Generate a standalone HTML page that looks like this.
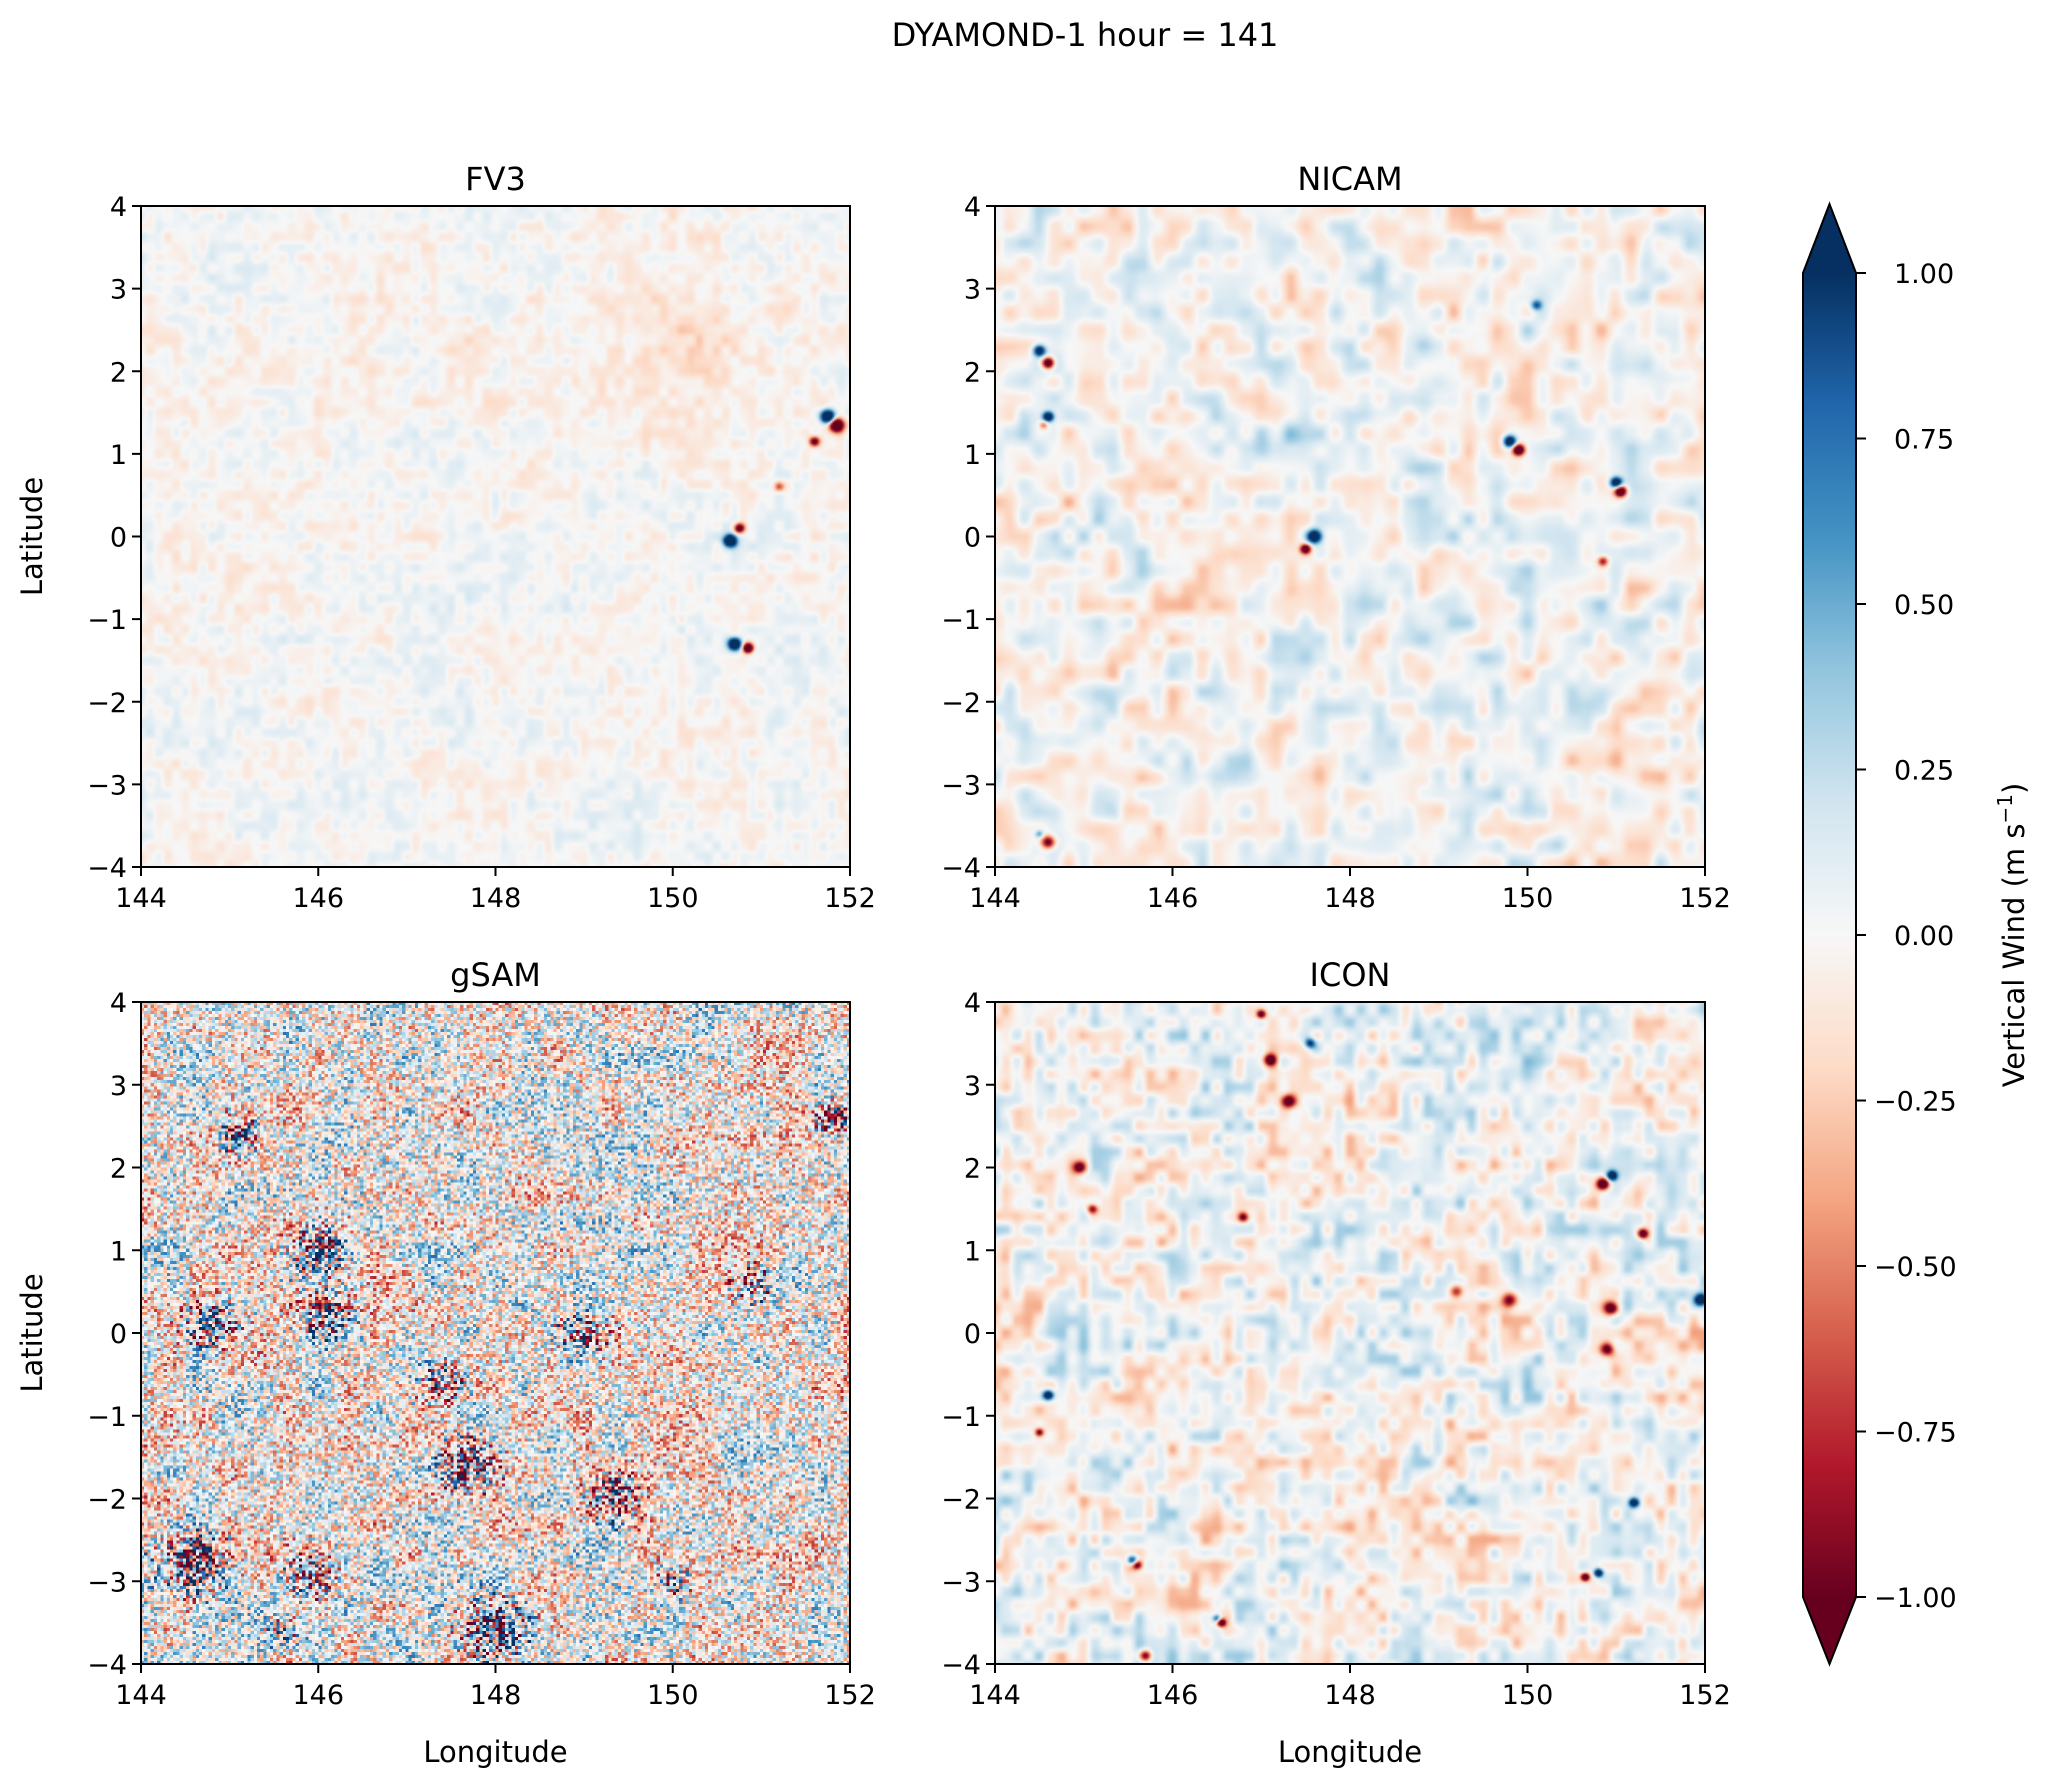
<!DOCTYPE html>
<html><head><meta charset="utf-8">
<style>
html,body{margin:0;padding:0;background:#fff;}
#root{position:relative;width:2067px;height:1790px;font-family:"DejaVu Sans","Liberation Sans",sans-serif;color:#000;}
canvas{position:absolute;}
svg{position:absolute;left:0;top:0;}
</style></head>
<body>
<div id="root">
<canvas id="c0"></canvas>
<canvas id="c1"></canvas>
<canvas id="c2"></canvas>
<canvas id="c3"></canvas>
<svg id="svg" width="2067" height="1790"></svg>
</div>
<script>
// ---- data ----
const xTicks = [144, 146, 148, 150, 152];
const yTicks = [-4, -3, -2, -1, 0, 1, 2, 3, 4];
const cbTicks = [1.00, 0.75, 0.50, 0.25, 0.00, -0.25, -0.50, -0.75, -1.00];
const panelTitles = ["FV3", "NICAM", "gSAM", "ICON"];
// features: lon, lat, amplitude (m/s), radius (deg)
const fv3Lon = [151.75,151.85,151.6,150.65,150.75,150.7,150.85,151.2,150.2,148.15,147.7];
const fv3Lat = [1.45,1.35,1.15,-0.05,0.1,-1.3,-1.35,0.6,2.4,0.2,2.0];
const fv3Amp = [2.0,-2.0,-1.2,2.0,-1.3,2.0,-1.8,-0.6,-0.12,-0.15,-0.1];
const fv3Rad = [0.08,0.08,0.06,0.07,0.06,0.07,0.06,0.06,1.2,0.15,0.5];
const nicamLon = [144.5,144.6,144.6,144.55,147.6,147.5,149.8,149.9,151.0,151.05,150.85,150.1,144.6,144.5,147.3];
const nicamLat = [2.25,2.1,1.45,1.35,0.0,-0.15,1.15,1.05,0.65,0.55,-0.3,2.8,-3.7,-3.6,1.0];
const nicamAmp = [1.4,-1.6,1.5,-0.6,1.6,-1.4,1.6,-1.6,1.7,-1.6,-0.9,0.8,-1.2,0.6,0.2];
const nicamRad = [0.07,0.07,0.06,0.05,0.08,0.06,0.07,0.07,0.07,0.07,0.06,0.06,0.08,0.05,0.5];
const gsamLon = [146.0,145.1,144.8,146.1,147.7,149.3,149.0,144.6,145.9,148.0,150.9,151.8,147.4,145.6,150.0];
const gsamLat = [1.0,2.4,0.1,0.2,-1.6,-2.0,0.0,-2.8,-2.9,-3.6,0.6,2.6,-0.6,-3.6,-3.0];
const gsamAmp = [0.9,0.8,0.8,0.8,0.9,0.9,0.7,0.9,0.7,0.9,0.6,0.9,0.6,0.6,0.6];
const gsamRad = [0.3,0.25,0.3,0.3,0.35,0.3,0.3,0.4,0.3,0.4,0.25,0.2,0.3,0.2,0.2];
const iconLon = [144.6,144.5,145.6,145.55,146.55,146.5,145.1,144.95,147.1,147.3,147.55,150.85,150.95,151.3,150.95,149.8,147.0,151.95,150.65,150.8,151.2,149.2,145.7,146.8,150.9];
const iconLat = [-0.75,-1.2,-2.8,-2.75,-3.5,-3.45,1.5,2.0,3.3,2.8,3.5,1.8,1.9,1.2,0.3,0.4,3.85,0.4,-2.95,-2.9,-2.05,0.5,-3.9,1.4,-0.2];
const iconAmp = [1.5,-1.0,-1.4,1.3,-1.4,1.0,-1.0,-1.0,-1.2,-1.2,1.0,-1.6,1.5,-1.4,-1.3,-1.0,-1.2,1.5,-1.4,1.5,1.4,-0.9,-1.3,-1.0,-1.0];
const iconRad = [0.06,0.05,0.06,0.06,0.05,0.05,0.06,0.07,0.07,0.08,0.06,0.07,0.06,0.06,0.08,0.09,0.05,0.07,0.05,0.05,0.06,0.08,0.07,0.06,0.08];
// texture amplitude per panel and grain (cells per degree)
const texAmp = [0.16, 0.32, 0.68, 0.38];
const texGrain = [10, 6, 25, 8];

// ---- layout ----
const panels = [
 {x0:141,x1:850,y0:206,y1:867},
 {x0:995,x1:1705,y0:206,y1:867},
 {x0:141,x1:850,y0:1002,y1:1664},
 {x0:995,x1:1705,y0:1002,y1:1664}];
const feats = [[fv3Lon,fv3Lat,fv3Amp,fv3Rad],[nicamLon,nicamLat,nicamAmp,nicamRad],[gsamLon,gsamLat,gsamAmp,gsamRad],[iconLon,iconLat,iconAmp,iconRad]];
const stops = [[103,0,31],[178,24,43],[214,96,77],[244,165,130],[253,219,199],[247,247,247],[209,229,240],[146,197,222],[67,147,195],[33,102,172],[5,48,97]];
function cmap(v){let t=(v+1)/2;t=Math.max(0,Math.min(1,t));const s=t*(stops.length-1);const i=Math.min(stops.length-2,Math.floor(s));const f=s-i;const a=stops[i],b=stops[i+1];return [a[0]+(b[0]-a[0])*f,a[1]+(b[1]-a[1])*f,a[2]+(b[2]-a[2])*f];}
function hash(i,j,k){let h=(i*374761393+j*668265263+k*982451653)|0;h=(h^(h>>>13))*1274126177|0;h=h^(h>>>16);return ((h>>>0)%10000)/5000-1;}
function vnoise(x,y,k){const i=Math.floor(x),j=Math.floor(y),fx=x-i,fy=y-j;const sx=fx*fx*(3-2*fx),sy=fy*fy*(3-2*fy);
 const a=hash(i,j,k),b=hash(i+1,j,k),c=hash(i,j+1,k),d=hash(i+1,j+1,k);return (a+(b-a)*sx)+((c+(d-c)*sx)-(a+(b-a)*sx))*sy;}
const xScale=(p,lon)=>p.x0+(lon-144)/8*(p.x1-p.x0);
const yScale=(p,lat)=>p.y1-(lat+4)/8*(p.y1-p.y0);

panels.forEach((p,k)=>{
 const cv=document.getElementById('c'+k);
 const N = k===2?220:360;
 cv.width=N;cv.height=N;
 cv.style.left=p.x0+'px';cv.style.top=p.y0+'px';
 cv.style.width=(p.x1-p.x0)+'px';cv.style.height=(p.y1-p.y0)+'px';
 if(k===2) cv.style.imageRendering='pixelated';
 const ctx=cv.getContext('2d');const img=ctx.createImageData(N,N);
 const [L,A,M,R]=feats[k];
 for(let r=0;r<N;r++)for(let c=0;c<N;c++){
  const lon=144+(c+0.5)/N*8,lat=4-(r+0.5)/N*8;
  const g=texGrain[k];
  let v;
  if(k===2){v=texAmp[k]*(hash(c,r,7)*0.8+vnoise(lon*3,lat*3,3)*0.4);}
  else {v=texAmp[k]*(vnoise(lon*g,lat*g*0.8,k)*0.7+vnoise(lon*2.5,lat*2.5,k+11)*0.5);}
  for(let f=0;f<L.length;f++){
   const dx=lon-L[f],dy=lat-A[f];const e=Math.exp(-(dx*dx+dy*dy)/(R[f]*R[f]));
   if(k===2){v+=M[f]*e*hash(c,r,19)*1.8;} else v+=M[f]*e;
  }
  const col=cmap(v);const o=(r*N+c)*4;
  img.data[o]=col[0];img.data[o+1]=col[1];img.data[o+2]=col[2];img.data[o+3]=255;
 }
 ctx.putImageData(img,0,0);
});

// ---- axes ----
const svg=document.getElementById('svg');const NS='http://www.w3.org/2000/svg';
function el(tag,attrs,parent){const e=document.createElementNS(NS,tag);for(const a in attrs)e.setAttribute(a,attrs[a]);(parent||svg).appendChild(e);return e;}
function fmt(v,d){const s=Math.abs(v).toFixed(d);return (v<0?'\u2212':'')+s;}
const ff='DejaVu Sans, Liberation Sans, sans-serif';
const t0=el('text',{x:1085,y:46,'text-anchor':'middle','font-size':32,'font-family':ff});t0.textContent='DYAMOND-1 hour = 141';

panels.forEach((p,k)=>{
 const g=el('g',{});
 
 
 const fr=el('rect',{x:p.x0,y:p.y0,width:p.x1-p.x0,height:p.y1-p.y0,fill:'none',stroke:'#000','stroke-width':2},g);
 
 const tt=el('text',{x:(p.x0+p.x1)/2,y:p.y0-16,'text-anchor':'middle','font-size':32,'font-family':ff},g);tt.textContent=panelTitles[k];
 
 xTicks.forEach(v=>{const x=xScale(p,v);el('line',{x1:x,x2:x,y1:p.y1,y2:p.y1+9,stroke:'#000','stroke-width':2},g);
  const t=el('text',{x:x,y:p.y1+40,'text-anchor':'middle','font-size':27,'font-family':ff},g);t.textContent=v;
  });
 yTicks.forEach(v=>{const y=yScale(p,v);el('line',{x1:p.x0-9,x2:p.x0,y1:y,y2:y,stroke:'#000','stroke-width':2},g);
  const t=el('text',{x:p.x0-14,y:y+10,'text-anchor':'end','font-size':27,'font-family':ff},g);t.textContent=fmt(v,0);
  });
 if(k%2===0){const yl=el('text',{x:0,y:0,transform:`translate(42,${(p.y0+p.y1)/2}) rotate(-90)`,'text-anchor':'middle','font-size':29,'font-family':ff},g);yl.textContent='Latitude';
  }
 if(k>=2){const xl=el('text',{x:(p.x0+p.x1)/2,y:1762,'text-anchor':'middle','font-size':29,'font-family':ff},g);xl.textContent='Longitude';
  }
});
// colorbar
const cb={x0:1803,x1:1856,y0:273,y1:1597,tt:204,tb:1664};
const defs=el('defs',{});const lg=el('linearGradient',{id:'cbg',x1:0,y1:1,x2:0,y2:0},defs);
stops.forEach((s,i)=>el('stop',{offset:i/(stops.length-1),'stop-color':`rgb(${s.join(',')})`},lg));
const cg=el('g',{});
el('rect',{x:cb.x0,y:cb.y0,width:cb.x1-cb.x0,height:cb.y1-cb.y0,fill:'url(#cbg)'},cg);
el('polygon',{points:`${cb.x0},${cb.y0} ${(cb.x0+cb.x1)/2},${cb.tt} ${cb.x1},${cb.y0}`,fill:'rgb(5,48,97)'},cg);
el('polygon',{points:`${cb.x0},${cb.y1} ${(cb.x0+cb.x1)/2},${cb.tb} ${cb.x1},${cb.y1}`,fill:'rgb(103,0,31)'},cg);
el('polygon',{points:`${cb.x0},${cb.y0} ${(cb.x0+cb.x1)/2},${cb.tt} ${cb.x1},${cb.y0} ${cb.x1},${cb.y1} ${(cb.x0+cb.x1)/2},${cb.tb} ${cb.x0},${cb.y1}`,fill:'none',stroke:'#000','stroke-width':2},cg);
cbTicks.forEach(v=>{const y=cb.y1-(v+1)/2*(cb.y1-cb.y0);el('line',{x1:cb.x1,x2:cb.x1+10,y1:y,y2:y,stroke:'#000','stroke-width':2},cg);
 const t=el('text',{x:cb.x1+38,y:y+10,'font-size':27,'font-family':ff},cg);t.textContent=fmt(v,2);
 if(v<0)t.setAttribute('x',cb.x1+18);
 });
const cl=el('text',{x:0,y:0,transform:`translate(2024,935) rotate(-90)`,'text-anchor':'middle','font-size':29,'font-family':ff});
cl.innerHTML='Vertical Wind (m s<tspan baseline-shift="super" font-size="20">\u22121</tspan>)';

</script>
</body></html>
